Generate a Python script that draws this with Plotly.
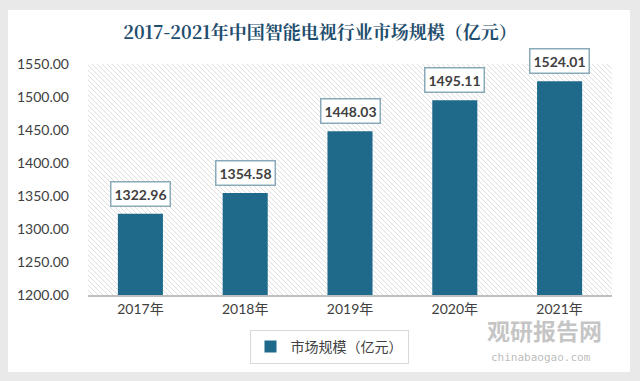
import base64
import plotly.graph_objects as go

categories = ["2017年", "2018年", "2019年", "2020年", "2021年"]
values = [1322.96, 1354.58, 1448.03, 1495.11, 1524.01]
series_name = "市场规模（亿元）"
title_text = "2017-2021年中国智能电视行业市场规模（亿元）"
y_ticks = [1200, 1250, 1300, 1350, 1400, 1450, 1500, 1550]

W, H = 640, 381
L, R, T, B = 88, 28, 64, 86
PW, PH = W - L - R, H - T - B

bar_color = "#1f6a8b"

# hatch pattern for plot background
lines = []
step = 5
for k in range(-PH, PW + PH, step):
    lines.append(f'<line x1="{k}" y1="0" x2="{k+PH}" y2="{PH}" stroke="#dedede" stroke-width="1"/>')
svg = f'<svg xmlns="http://www.w3.org/2000/svg" width="{PW}" height="{PH}" viewBox="0 0 {PW} {PH}">' + "".join(lines) + "</svg>"
hatch_src = "data:image/svg+xml;base64," + base64.b64encode(svg.encode()).decode()

fig = go.Figure()
fig.add_trace(go.Bar(
    x=categories, y=values, name=series_name,
    marker=dict(color=bar_color, line=dict(width=0)),
    width=0.43, showlegend=True,
))

for c, v in zip(categories, values):
    fig.add_annotation(
        x=c, y=v, text=f"<b>{v:.2f}</b>", showarrow=False,
        yanchor="bottom", yshift=7,
        font=dict(family="Lato, Open Sans, sans-serif", size=14, color="#404040"),
        bgcolor="white", bordercolor="#8aaab9", borderwidth=1.5, borderpad=3,
    )

def px_to_paper_x(px):
    return (px - L) / PW

def px_to_paper_y(py):
    return (H - B - py) / PH

# grey outer frame
frame = "#e9e9e9"
for (x0, y0, x1, y1) in [(0, 0, 640, 10), (0, 372, 640, 381), (0, 0, 8, 381), (630, 0, 640, 381)]:
    fig.add_shape(type="rect", xref="paper", yref="paper",
                  x0=px_to_paper_x(x0), x1=px_to_paper_x(x1),
                  y0=px_to_paper_y(y1), y1=px_to_paper_y(y0),
                  fillcolor=frame, line=dict(width=0), layer="below")

# watermark
fig.add_annotation(xref="paper", yref="paper", x=px_to_paper_x(544), y=px_to_paper_y(330),
                   xanchor="center", yanchor="middle",
                   text="<b>观研报告网</b>", showarrow=False,
                   font=dict(family="Noto Sans CJK SC", size=23, color="rgba(140,140,140,0.5)"))
fig.add_annotation(xref="paper", yref="paper", x=px_to_paper_x(541), y=px_to_paper_y(357),
                   xanchor="center", yanchor="middle",
                   text="chinabaogao.com", showarrow=False,
                   font=dict(family="DejaVu Sans Mono", size=11, color="rgba(140,140,140,0.6)"))

fig.add_layout_image(dict(source=hatch_src, xref="paper", yref="paper", x=0, y=1,
                          sizex=1, sizey=1, sizing="stretch", layer="below",
                          xanchor="left", yanchor="top"))

fig.update_layout(
    width=W, height=H,
    margin=dict(l=L, r=R, t=T, b=B),
    paper_bgcolor="white", plot_bgcolor="rgba(0,0,0,0)",
    title=dict(text=f"<b>{title_text}</b>", x=0.5, xanchor="center",
               y=1 - 33 / H, yanchor="middle", yref="container",
               font=dict(family="Noto Serif CJK SC, Noto Sans CJK SC", size=18, color="#1f4e6e")),
    bargap=0.57,
    legend=dict(orientation="h", x=px_to_paper_x(329), xanchor="center",
                y=px_to_paper_y(347), yanchor="middle",
                bgcolor="white", bordercolor="#d9d9d9", borderwidth=1,
                font=dict(family="Noto Sans CJK SC", size=14, color="#404040"),
                itemwidth=30),
    xaxis=dict(showline=True, linecolor="#bfbfbf", linewidth=1.5, ticks="",
               tickfont=dict(family="Lato, Noto Sans CJK SC", size=14, color="#404040"),
               showgrid=False),
    yaxis=dict(range=[1200, 1550], tickvals=y_ticks,
               ticktext=[f"{t:.2f}" for t in y_ticks], showgrid=False,
               showline=False, zeroline=False, ticks="",
               tickfont=dict(family="Lato, Open Sans, sans-serif", size=14, color="#404040"),
               ticklabelstandoff=18),
)

fig.write_html("out.html", config={"displayModeBar": False},
               post_script="document.body.style.margin='0px';document.body.style.overflow='hidden';")
